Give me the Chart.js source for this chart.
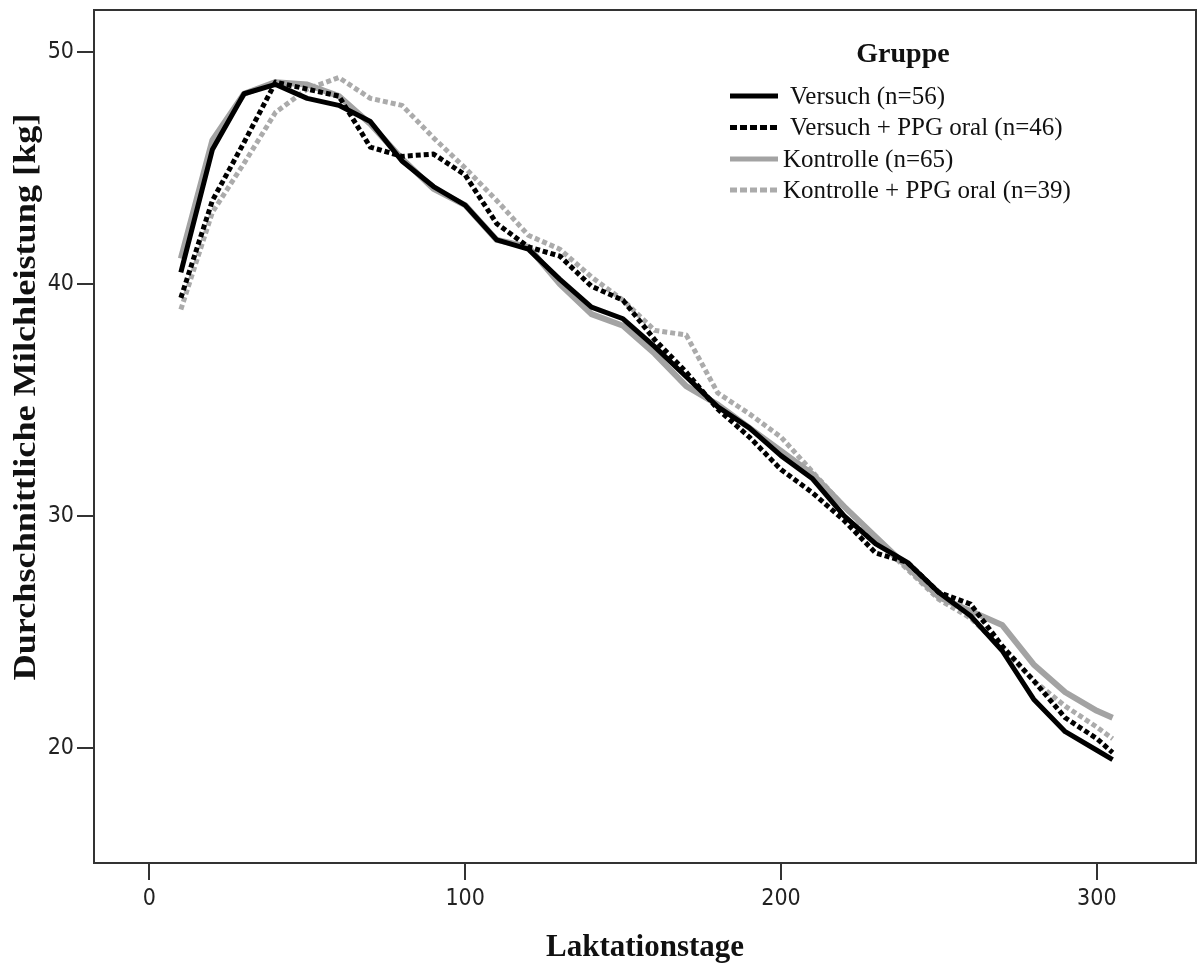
<!DOCTYPE html>
<html><head><meta charset="utf-8">
<script src="https://cdn.jsdelivr.net/npm/chart.js@4/dist/chart.umd.min.js"></script>
<style>html,body{margin:0;padding:0;background:#fff;} #wrap{width:1197px;height:963px;}</style>
</head><body><div id="wrap"><canvas id="c" width="1197" height="963"></canvas></div>
<script>
// ---- data ----
const days = [10,20,30,40,50,60,70,80,90,100,110,120,130,140,150,160,170,180,190,200,210,220,230,240,250,260,270,280,290,300,305];
const versuch = [40.5,45.8,48.2,48.6,48.0,47.7,47.0,45.3,44.2,43.4,41.9,41.5,40.2,39.0,38.5,37.3,36.0,34.7,33.8,32.6,31.6,30.0,28.8,28.0,26.7,25.7,24.2,22.1,20.7,19.9,19.5];
const versuchPPG = [39.4,43.6,46.1,48.7,48.4,48.1,45.9,45.5,45.6,44.7,42.6,41.6,41.2,39.9,39.3,37.6,36.2,34.6,33.4,32.0,31.0,29.8,28.4,28.0,26.7,26.2,24.4,22.9,21.3,20.4,19.8];
const kontrolle = [41.1,46.2,48.2,48.7,48.6,48.1,46.9,45.4,44.1,43.4,41.9,41.6,40.0,38.7,38.2,37.0,35.6,34.8,33.8,32.8,31.8,30.4,29.1,27.8,26.5,25.9,25.3,23.6,22.4,21.6,21.3];
const kontrollePPG = [38.9,43.1,45.2,47.4,48.4,48.9,48.0,47.7,46.3,45.0,43.6,42.1,41.5,40.3,39.3,38.0,37.8,35.3,34.4,33.4,31.9,30.4,29.0,27.7,26.4,25.6,24.3,22.9,21.8,20.9,20.4];
const seriesLabels = ['Versuch (n=56)','Versuch + PPG oral (n=46)','Kontrolle (n=65)','Kontrolle + PPG oral (n=39)'];
const xTicks = [0,100,200,300];
const yTicks = [20,30,40,50];
const xTitle = 'Laktationstage';
const yTitle = 'Durchschnittliche Milchleistung [kg]';
const legendTitle = 'Gruppe';

// ---- styles ----
const BLACK = '#000000', GRAY = '#a3a3a3', AXIS = '#333333';
const styles = [
  {color: BLACK, dash: [], width: 5},
  {color: BLACK, dash: [5,3], width: 5},
  {color: GRAY, dash: [], width: 6},
  {color: '#ababab', dash: [5,3], width: 5}
];
const seriesValues = [versuch, versuchPPG, kontrolle, kontrollePPG];
const datasets = seriesValues.map((vals, k) => ({
  label: seriesLabels[k],
  data: days.map((d, i) => ({x: d, y: vals[i]})),
  borderColor: styles[k].color,
  borderWidth: styles[k].width,
  borderDash: styles[k].dash,
  borderCapStyle: 'butt',
  borderJoinStyle: 'round',
  pointRadius: 0,
  fill: false,
  tension: 0
}));

const SERIF = '"Liberation Serif","Times New Roman",serif';
const TICKFONT = '"Liberation Sans Narrow","DejaVu Sans Condensed","Liberation Sans",sans-serif';

const framePlugin = {
  id: 'frame',
  beforeDatasetsDraw(chart) {
    const {ctx, chartArea: a} = chart;
    ctx.save();
    ctx.strokeStyle = AXIS; ctx.lineWidth = 2;
    ctx.beginPath();
    ctx.moveTo(a.left, a.top); ctx.lineTo(a.right, a.top); ctx.lineTo(a.right, a.bottom);
    ctx.stroke();
    ctx.restore();
  }
};

const yTitlePlugin = {
  id: 'ytitle',
  afterDraw(chart) {
    const ctx = chart.ctx;
    ctx.save();
    ctx.font = 'bold 31px ' + SERIF;
    ctx.fillStyle = '#111';
    const w = ctx.measureText(yTitle).width;
    const target = 567;
    ctx.translate(27, 397);
    ctx.rotate(-Math.PI / 2);
    ctx.scale(target / w, 1);
    ctx.textAlign = 'center';
    ctx.textBaseline = 'middle';
    ctx.fillText(yTitle, 0, 0);
    ctx.restore();
  }
};

const legendPlugin = {
  id: 'customLegend',
  afterDraw(chart) {
    const ctx = chart.ctx;
    ctx.save();
    ctx.fillStyle = '#111';
    ctx.font = 'bold 28px ' + SERIF;
    ctx.textAlign = 'center';
    ctx.textBaseline = 'middle';
    ctx.fillText(legendTitle, 903, 55);
    const rowY = [96, 127.5, 159, 190];
    chart.data.datasets.forEach((ds, i) => {
      const y = rowY[i];
      ctx.beginPath();
      ctx.strokeStyle = ds.borderColor;
      ctx.lineWidth = 5;
      ctx.setLineDash(ds.borderDash.length ? [7,3] : []);
      ctx.moveTo(730, y); ctx.lineTo(778, y);
      ctx.stroke();
      ctx.setLineDash([]);
      ctx.font = '25px ' + SERIF;
      ctx.textAlign = 'left';
      ctx.fillStyle = '#111';
      ctx.fillText(ds.label, ds.borderColor === BLACK ? 790 : 783, y + 1);
    });
    ctx.restore();
  }
};

new Chart(document.getElementById('c'), {
  type: 'line',
  data: {datasets},
  options: {
    responsive: false,
    animation: false,
    devicePixelRatio: 1,
    layout: {padding: {top: 10, right: 1, left: 0, bottom: 0}},
    plugins: {legend: {display: false}, tooltip: {enabled: false}},
    scales: {
      x: {
        type: 'linear',
        min: -17.5, max: 331.4,
        afterBuildTicks: s => { s.ticks = xTicks.map(v => ({value: v})); },
        afterFit: s => { s.height = 100; s.paddingLeft = 0; s.paddingRight = 0; },
        grid: {drawOnChartArea: false, drawTicks: true, tickLength: 17, color: AXIS, lineWidth: 2},
        border: {display: true, color: AXIS, width: 2},
        ticks: {font: {family: TICKFONT, size: 23}, color: '#222', padding: 5, maxRotation: 0},
        title: {display: true, text: xTitle, font: {family: SERIF, size: 31, weight: 'bold', lineHeight: 1}, color: '#111', padding: {top: 0, bottom: 0}}
      },
      y: {
        type: 'linear',
        min: 15.04, max: 51.81,
        afterBuildTicks: s => { s.ticks = yTicks.map(v => ({value: v})); },
        afterFit: s => { s.width = 94; s.paddingTop = 0; s.paddingBottom = 0; },
        grid: {drawOnChartArea: false, drawTicks: true, tickLength: 17, color: AXIS, lineWidth: 2},
        border: {display: true, color: AXIS, width: 2},
        ticks: {font: {family: TICKFONT, size: 23}, color: '#222', padding: 3}
      }
    }
  },
  plugins: [framePlugin, yTitlePlugin, legendPlugin]
});
</script>
</body></html>
